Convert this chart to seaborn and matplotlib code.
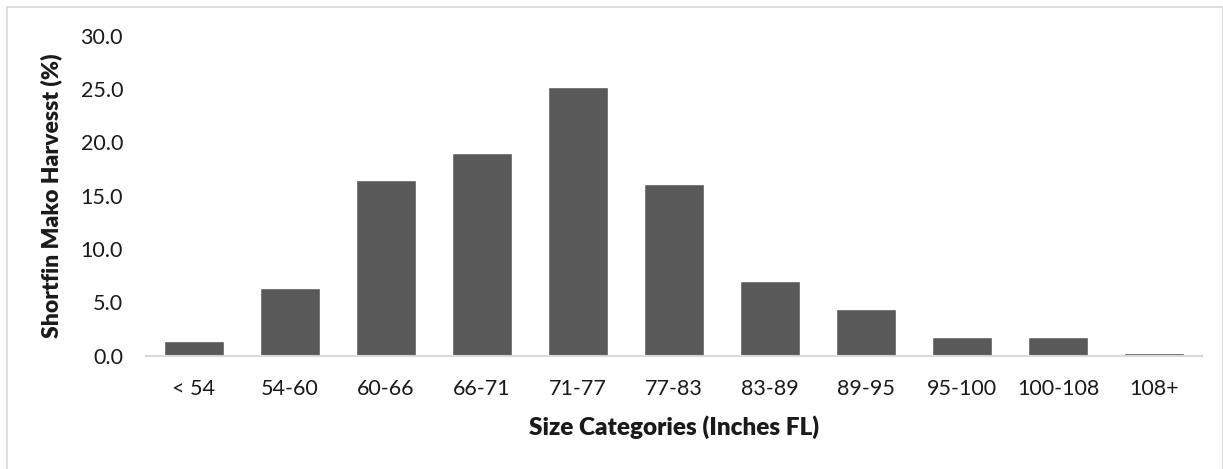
import matplotlib
matplotlib.use("Agg")
import matplotlib.pyplot as plt
import seaborn as sns
import pandas as pd
from matplotlib.patches import Rectangle

# Size classes (fork length, inches) and share of harvest in each
categories = ["< 54", "54-60", "60-66", "66-71", "71-77", "77-83",
              "83-89", "89-95", "95-100", "100-108", "108+"]
harvest_pct = [1.4, 6.3, 16.5, 19.0, 25.2, 16.1, 7.0, 4.4, 1.7, 1.7, 0.2]
y_ticks = [0, 5, 10, 15, 20, 25, 30]

sns.set_theme(style="white")
plt.rcParams["font.family"] = ["Lato", "DejaVu Sans"]

df = pd.DataFrame({"size": categories, "pct": harvest_pct})

fig = plt.figure(figsize=(12.23, 4.69), dpi=100)
ax = fig.add_axes([146 / 1223, 113.5 / 469, (1202 - 146) / 1223, (433.3 - 113.5) / 469])

sns.barplot(data=df, x="size", y="pct", order=categories, color="#595959",
            saturation=1, width=0.62, ax=ax)

ax.set_xlim(-0.5, len(categories) - 0.5)
ax.set_ylim(0, 30)
ax.set_yticks(y_ticks)
ax.set_yticklabels([f"{v:.1f}" for v in y_ticks])

for side in ["top", "right", "left"]:
    ax.spines[side].set_visible(False)
ax.spines["bottom"].set_color("#d9d9d9")
ax.spines["bottom"].set_linewidth(1.5)
ax.tick_params(axis="both", length=0, labelsize=15.5, colors="#1a1a1a")
ax.tick_params(axis="x", pad=17)
ax.tick_params(axis="y", pad=16.5)

ax.set_xlabel("Size Categories (Inches FL)", fontsize=17.5, fontweight="heavy",
              color="#1a1a1a", labelpad=12)
ax.set_ylabel("Shortfin Mako Harvesst (%)", fontsize=16.5, fontweight="heavy",
              color="#1a1a1a", labelpad=13)

# Light chart-area frame
fig.patches.append(Rectangle((7 / 1223, -0.02), 1 - 7 / 1223 - 0.5 / 1223, 1 - 7 / 469 + 0.02,
                             transform=fig.transFigure, fill=False,
                             edgecolor="#d9d9d9", linewidth=1.2))

fig.savefig("out.png", dpi=100)
